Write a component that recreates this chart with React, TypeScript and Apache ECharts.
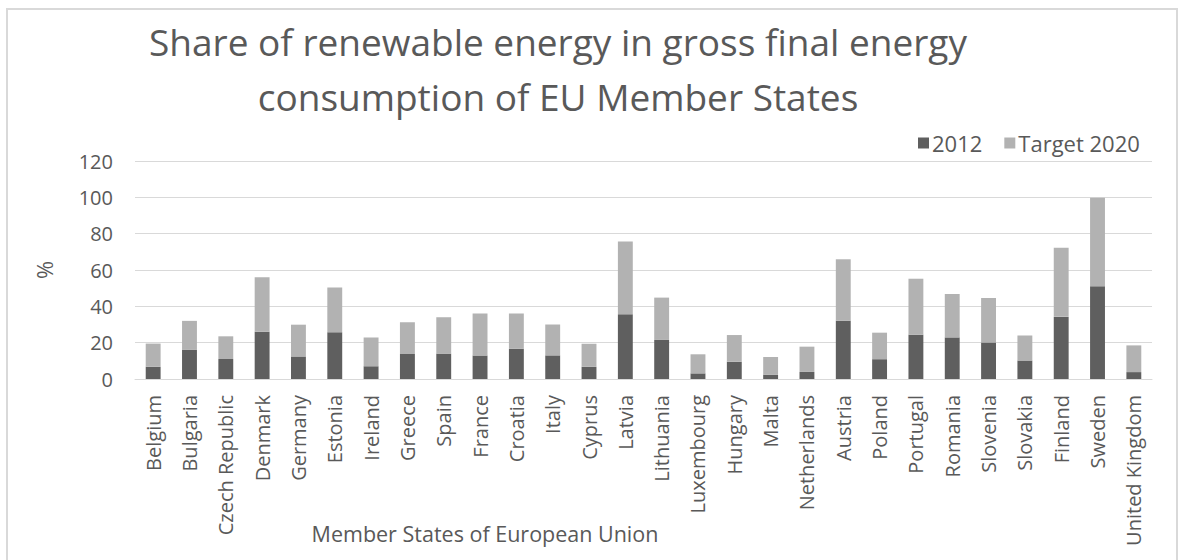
import React, { useEffect, useRef } from "react";
import * as echarts from "echarts";

const countries = [
  "Belgium", "Bulgaria", "Czech Republic", "Denmark", "Germany", "Estonia", "Ireland",
  "Greece", "Spain", "France", "Croatia", "Italy", "Cyprus", "Latvia", "Lithuania",
  "Luxembourg", "Hungary", "Malta", "Netherlands", "Austria", "Poland", "Portugal",
  "Romania", "Slovenia", "Slovakia", "Finland", "Sweden", "United Kingdom",
];

const share2012 = [
  6.7, 16.0, 11.0, 26.0, 12.4, 25.8, 7.0, 13.8, 14.0, 13.0, 16.6, 13.0, 6.7, 35.7,
  21.5, 3.1, 9.5, 2.4, 3.9, 32.1, 10.9, 24.4, 22.9, 20.1, 10.2, 34.2, 51.0, 3.8,
];

const target2020 = [
  12.8, 16.0, 12.5, 30.0, 17.5, 24.5, 15.8, 17.4, 20.0, 23.0, 19.5, 17.0, 12.7, 40.0,
  23.3, 10.5, 14.7, 9.7, 13.9, 33.8, 14.6, 30.8, 23.9, 24.5, 13.8, 38.1, 48.8, 14.7,
];

const yTicks = { min: 0, max: 120, interval: 20 };

const titleLines = [
  "Share of renewable energy in gross final energy",
  "consumption of EU Member States",
];
const seriesNames = ["2012", "Target 2020"];
const xAxisTitle = "Member States of European Union";
const yAxisTitle = "%";

const FONT = "'Open Sans', 'Noto Sans', sans-serif";
const TEXT = "#595959";

export default function App() {
  const ref = useRef<HTMLDivElement>(null);

  useEffect(() => {
    if (!ref.current) return;
    const chart = echarts.init(ref.current, null, { renderer: "svg" });
    chart.setOption({
      animation: false,
      backgroundColor: "#ffffff",
      textStyle: { fontFamily: FONT, color: TEXT },
      graphic: [
        {
          type: "rect",
          shape: { x: 7, y: 9, width: 1170, height: 570 },
          style: { fill: "none", stroke: "#d9d9d9", lineWidth: 2 },
          silent: true,
          z: -1,
        },
        {
          type: "text",
          x: 558,
          y: 41,
          style: {
            text: titleLines[0],
            fontFamily: FONT,
            fontSize: 37,
            fill: TEXT,
            textAlign: "center",
            textVerticalAlign: "middle",
          },
        },
        {
          type: "text",
          x: 558,
          y: 96,
          style: {
            text: titleLines[1],
            fontFamily: FONT,
            fontSize: 37,
            fill: TEXT,
            textAlign: "center",
            textVerticalAlign: "middle",
          },
        },
        {
          type: "text",
          x: 485,
          y: 533,
          style: {
            text: xAxisTitle,
            fontFamily: FONT,
            fontSize: 21.5,
            fill: TEXT,
            textAlign: "center",
            textVerticalAlign: "middle",
          },
        },
      ],
      legend: {
        data: seriesNames,
        left: 913,
        top: 127,
        icon: "rect",
        itemWidth: 11,
        itemHeight: 11,
        itemGap: 22,
        textStyle: { fontFamily: FONT, fontSize: 22, color: TEXT, padding: [0, 0, 0, -2] },
      },
      grid: { left: 135, right: 27, top: 161, bottom: 181, containLabel: false },
      xAxis: {
        type: "category",
        data: countries,
        axisLine: { lineStyle: { color: "#d9d9d9", width: 1 } },
        axisTick: { show: false },
        axisLabel: {
          rotate: 90,
          interval: 0,
          margin: 16,
          fontFamily: FONT,
          fontSize: 20,
          color: TEXT,
        },
      },
      yAxis: {
        type: "value",
        min: yTicks.min,
        max: yTicks.max,
        interval: yTicks.interval,
        name: yAxisTitle,
        nameLocation: "middle",
        nameRotate: 90,
        nameGap: 80,
        nameTextStyle: { fontFamily: FONT, fontSize: 22, color: TEXT },
        axisLine: { show: false },
        axisTick: { show: false },
        splitLine: { lineStyle: { color: "#d9d9d9", width: 1 } },
        axisLabel: { margin: 22, fontFamily: FONT, fontSize: 20, color: TEXT },
      },
      series: [
        {
          name: seriesNames[0],
          type: "bar",
          stack: "total",
          data: share2012,
          barWidth: "41%",
          itemStyle: { color: "#5f5f5f" },
        },
        {
          name: seriesNames[1],
          type: "bar",
          stack: "total",
          data: target2020,
          barWidth: "41%",
          itemStyle: { color: "#b2b2b2" },
        },
      ],
    });
    return () => chart.dispose();
  }, []);

  return (
    <div
      ref={ref}
      style={{ position: "absolute", left: 0, top: 0, width: 1179, height: 560 }}
    />
  );
}
